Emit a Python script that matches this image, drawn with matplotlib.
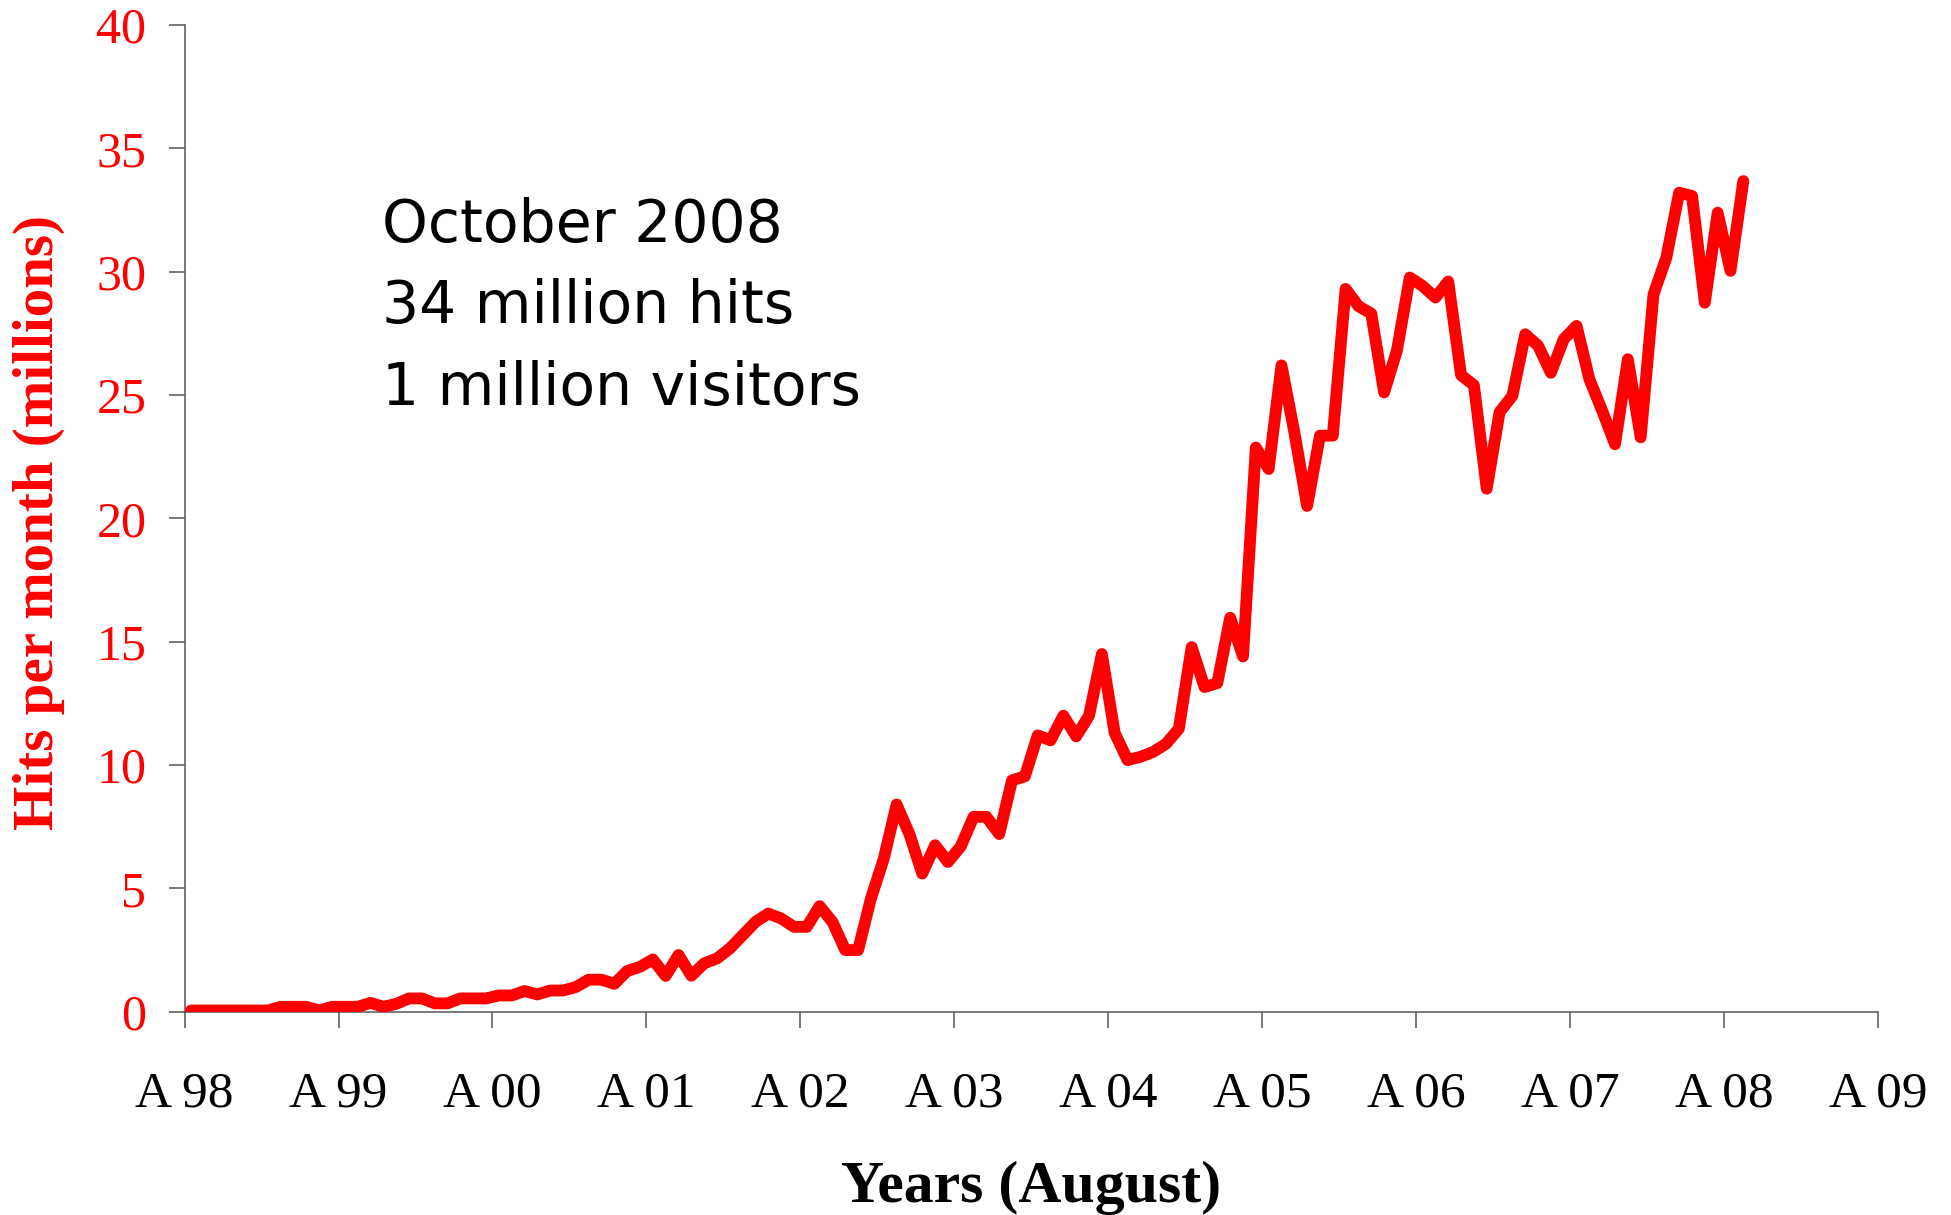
import numpy as np
import matplotlib
matplotlib.use("Agg")
import matplotlib.pyplot as plt

# Monthly hits (millions), starting the month after August 1998, ending October 2008
hits = [
    0.05, 0.05, 0.05, 0.05, 0.05, 0.05, 0.05, 0.20, 0.20, 0.20,
    0.05, 0.20, 0.20, 0.20, 0.36, 0.20, 0.32, 0.54, 0.54, 0.34,
    0.34, 0.54, 0.54, 0.54, 0.66, 0.66, 0.84, 0.70, 0.86, 0.86,
    1.00, 1.30, 1.30, 1.13, 1.65, 1.82, 2.12, 1.45, 2.30, 1.46,
    1.96, 2.16, 2.56, 3.10, 3.64, 3.98, 3.78, 3.44, 3.44, 4.28,
    3.64, 2.50, 2.50, 4.59, 6.20, 8.40, 7.20, 5.60, 6.75, 6.07,
    6.70, 7.90, 7.90, 7.20, 9.38, 9.54, 11.20, 11.00, 12.00, 11.16,
    12.00, 14.50, 11.30, 10.20, 10.33, 10.53, 10.86, 11.47, 14.78, 13.16,
    13.32, 15.97, 14.40, 22.87, 22.00, 26.20, 23.50, 20.50, 23.35, 23.35,
    29.30, 28.60, 28.30, 25.10, 26.80, 29.76, 29.42, 28.95, 29.60, 25.80,
    25.40, 21.20, 24.30, 24.97, 27.46, 27.00, 25.90, 27.26, 27.80, 25.64,
    24.36, 23.00, 26.45, 23.28, 29.08, 30.57, 33.20, 33.07, 28.74, 32.39,
    30.03, 33.67,
]

year_labels = ["A 98", "A 99", "A 00", "A 01", "A 02", "A 03",
               "A 04", "A 05", "A 06", "A 07", "A 08", "A 09"]
y_ticks = [0, 5, 10, 15, 20, 25, 30, 35, 40]
note_lines = ["October 2008", "34 million hits", "1 million visitors"]

RED = "#FF0000"
SERIF = "Liberation Serif"

fig = plt.figure(figsize=(19.51, 12.15), dpi=100)
ax = fig.add_axes([0.0946, 0.1673, 0.9626 - 0.0946, 0.9795 - 0.1673])

months = np.arange(len(hits)) + 0.5
ax.plot(months, hits, color=RED, linewidth=8.5,
        solid_joinstyle="round", solid_capstyle="round", zorder=3)

ax.set_xlim(0, 12 * (len(year_labels) - 1))
ax.set_ylim(0, 40)

ax.set_xticks(np.arange(len(year_labels)) * 12)
ax.set_xticklabels(year_labels, fontfamily=SERIF, fontsize=37, color="black")
ax.set_yticks(y_ticks)
ax.set_yticklabels([str(v) for v in y_ticks], fontfamily=SERIF,
                   fontsize=36, color=RED)

ax.tick_params(axis="x", direction="out", length=11.5, width=1.1,
               color="#555555", pad=31)
ax.tick_params(axis="y", direction="out", length=11.5, width=1.1,
               color="#555555", pad=16)

for side in ("top", "right"):
    ax.spines[side].set_visible(False)
for side in ("left", "bottom"):
    ax.spines[side].set_color("#555555")
    ax.spines[side].set_linewidth(1.1)

ax.set_xlabel("Years (August)", fontfamily=SERIF, fontsize=43,
              fontweight="bold", color="black", labelpad=31)
fig.text(0.02, 0.57, "Hits per month (millions)", rotation=90,
         ha="center", va="center", fontfamily=SERIF, fontsize=41,
         fontweight="bold", color=RED)

for i, line in enumerate(note_lines):
    ax.text(382 / 1951, 1 - (241.7 + 81.7 * i) / 1215, line,
            transform=fig.transFigure, fontfamily="DejaVu Sans",
            fontsize=42, color="black", ha="left", va="baseline")

fig.savefig("out.png", dpi=100, facecolor="white")
